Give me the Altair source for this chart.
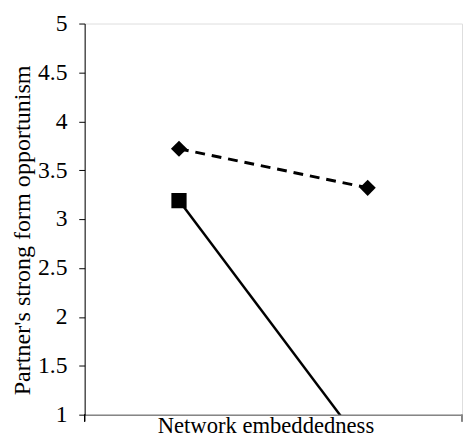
import altair as alt
import pandas as pd

categories = ["Low", "High"]
series_names = ["Low moderator", "High moderator"]
dashed_values = [3.72, 3.32]
solid_values = [3.19, 0.62]
y_ticks = [1, 1.5, 2, 2.5, 3, 3.5, 4, 4.5, 5]

rows = []
for c, v in zip(categories, dashed_values):
    rows.append({"cat": c, "series": series_names[0], "value": v})
for c, v in zip(categories, solid_values):
    rows.append({"cat": c, "series": series_names[1], "value": v})
df = pd.DataFrame(rows)

FONT = "Liberation Serif"
W, H = 384, 398

x_enc = alt.X(
    "cat:N",
    sort=categories,
    scale=alt.Scale(type="point", padding=0.5),
    axis=alt.Axis(
        title="Network embeddedness",
        labels=False,
        ticks=False,
        domainColor="#868686",
        domainWidth=1.5,
        titleFont=FONT,
        titleFontSize=23,
        titleFontWeight="normal",
        titleColor="black",
        titleX=184,
        titleY=18,
        titleAlign="center",
        titleBaseline="alphabetic",
    ),
)
y_enc = alt.Y(
    "value:Q",
    scale=alt.Scale(domain=[1, 5], nice=False, zero=False),
    axis=alt.Axis(
        title="Partner's strong form opportunism",
        values=y_ticks,
        format="~g",
        grid=False,
        domainColor="black",
        tickColor="black",
        tickSize=6,
        labelPadding=12,
        labelFont=FONT,
        labelFontSize=24,
        labelColor="black",
        titleFont=FONT,
        titleFontSize=24.5,
        titleFontWeight="normal",
        titleColor="black",
        titleAngle=270,
        titleX=-56,
        titleY=210,
        titleAlign="center",
        titleBaseline="alphabetic",
    ),
)

base = alt.Chart(df)

dashed = base.transform_filter(alt.datum.series == series_names[0])
solid = base.transform_filter(alt.datum.series == series_names[1])

dashed_line = dashed.mark_line(color="black", strokeWidth=3, strokeDash=[10, 7], clip=True).encode(x=x_enc, y=y_enc)
dashed_pts = dashed.mark_point(shape="diamond", filled=True, color="black", size=270, opacity=1, clip=True).encode(x=x_enc, y=y_enc)
solid_line = solid.mark_line(color="black", strokeWidth=2.5, clip=True).encode(x=x_enc, y=y_enc)
solid_pts = solid.mark_point(shape="square", filled=True, color="black", size=240, opacity=1, clip=True).encode(x=x_enc, y=y_enc)

left_tick = alt.Chart(df).mark_rule(color="black", strokeWidth=1).encode(
    x=alt.value(0), y=alt.value(H), y2=alt.value(H + 7)
)
right_tick = alt.Chart(df).mark_rule(color="#868686", strokeWidth=1.5).encode(
    x=alt.value(W), y=alt.value(H), y2=alt.value(H + 7)
)

chart = (
    alt.layer(dashed_line, solid_line, dashed_pts, solid_pts, left_tick, right_tick)
    .properties(
        width=W,
        height=H,
        autosize=alt.AutoSizeParams(type="none"),
        padding={"left": 78, "top": 12, "right": 1, "bottom": 24},
    )
    .configure_view(stroke=None)
    .configure(background="white")
)

chart.save("out.html", embed_options={"renderer": "svg", "actions": False})
